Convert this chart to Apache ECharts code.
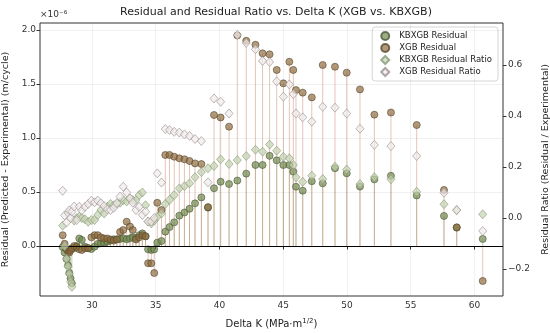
<!DOCTYPE html>
<html>
<head>
<meta charset="utf-8">
<script src="https://cdn.jsdelivr.net/npm/echarts@6/dist/echarts.min.js"></script>
<style>html,body{margin:0;padding:0;background:#fff;}#c{width:550px;height:333px;}</style>
</head>
<body>
<div id="c"></div>
<script>
// ---- data (residuals in units of 1e-6 m/cycle) ----
const deltaK = [27.70,27.85,28.00,28.12,28.22,28.32,28.42,28.60,28.80,29.00,29.20,29.45,29.70,29.95,30.20,30.45,30.70,30.95,31.20,31.45,31.70,31.95,32.20,32.45,32.72,32.98,33.20,33.45,33.70,33.95,34.20,34.40,34.65,34.88,35.12,35.45,
  35.75,36.08,36.45,36.85,37.25,37.65,38.08,38.58,39.10,39.57,40.09,40.75,41.40,42.10,42.82,43.38,43.93,44.49,45.01,45.48,45.79,46.00,46.53,47.24,48.10,49.06,49.98,51.02,52.15,53.45,55.47,57.61,58.61,60.65];
const kbxgbResidual = [-0.01,-0.06,-0.12,-0.18,-0.25,-0.30,-0.345,-0.02,0.00,0.07,0.056,-0.006,-0.02,-0.028,-0.006,0.019,0.025,0.031,0.04,0.05,0.062,0.062,0.065,0.071,0.062,0.071,0.08,0.071,0.10,0.117,0.09,-0.031,-0.037,-0.031,0.031,0.046,
  0.133,0.175,0.219,0.281,0.31,0.345,0.395,0.45,0.355,0.535,0.595,0.574,0.606,0.67,0.75,0.75,0.835,0.793,0.75,0.75,0.688,0.549,0.512,0.60,0.58,0.72,0.673,0.55,0.617,0.65,0.468,0.278,0.17,0.065];
const xgbResidual = [0.10,0.02,-0.03,-0.05,-0.06,-0.04,-0.02,0.00,-0.01,-0.03,-0.037,-0.02,-0.02,0.08,0.10,0.10,0.08,0.07,0.07,0.06,0.05,0.06,0.13,0.148,0.225,0.18,0.148,0.06,0.08,0.10,0.09,-0.16,-0.16,-0.25,0.40,0.333,
  0.843,0.843,0.827,0.812,0.803,0.787,0.765,0.759,0.36,1.213,1.19,1.105,1.95,1.90,1.864,1.784,1.775,1.63,1.506,1.706,1.63,1.444,1.42,1.376,1.676,1.66,1.605,1.45,1.216,1.236,1.12,0.519,0.173,-0.324];
const kbxgbRatio = [-0.03,-0.11,-0.16,-0.19,-0.22,-0.25,-0.27,-0.01,0.00,0.005,0.00,-0.005,-0.015,-0.008,-0.008,0.012,0.031,0.018,0.044,0.055,0.05,0.055,0.06,0.07,0.065,0.075,0.07,0.07,0.09,0.10,0.05,-0.014,-0.021,-0.01,0.005,0.018,
  0.055,0.071,0.09,0.116,0.125,0.136,0.16,0.18,0.195,0.204,0.23,0.212,0.227,0.243,0.268,0.26,0.288,0.264,0.24,0.234,0.208,0.16,0.142,0.166,0.153,0.201,0.19,0.133,0.16,0.152,0.103,0.054,0.031,0.0145];
const xgbRatio = [0.107,0.01,-0.018,0.02,0.03,0.00,0.025,0.045,-0.008,0.044,0.03,0.044,0.055,0.068,0.062,0.068,0.058,0.047,0.034,0.031,0.04,0.058,0.084,0.123,0.10,0.077,0.06,0.031,0.044,0.012,0.025,-0.014,-0.014,0.00,0.175,0.139,
  0.349,0.345,0.338,0.335,0.328,0.322,0.31,0.302,0.14,0.469,0.456,0.41,0.718,0.687,0.662,0.616,0.612,0.536,0.476,0.524,0.486,0.41,0.395,0.378,0.436,0.433,0.41,0.35,0.287,0.282,0.243,0.099,0.031,-0.051];
const xTicks = [30,35,40,45,50,55,60];
const leftTicks = [0,0.5,1.0,1.5,2.0];
const rightTicks = [-0.2,0,0.2,0.4,0.6];

const pairs = (ys) => deltaK.map((x,i)=>[x, ys[i]]);
const FONT = 'DejaVu Sans';
const chart = echarts.init(document.getElementById('c'), null, {renderer:'canvas'});

function stemSeries(ys, color){
  return {
    type:'custom', yAxisIndex:0, silent:true, z:1,
    data: pairs(ys), encode:{x:0,y:1},
    renderItem:(params, api)=>{
      const x = api.value(0), y = api.value(1);
      const p0 = api.coord([x,0]), p1 = api.coord([x,y]);
      return {type:'line', shape:{x1:p0[0],y1:p0[1],x2:p1[0],y2:p1[1]}, style:{stroke:color, lineWidth:1}};
    }
  };
}
const gridStyle = {color:'rgba(0,0,0,0.07)', width:0.8, type:'solid'};
const fmtR = v => (v<0?'\u2212':'') + Math.abs(v).toFixed(1);

const option = {
  animation:false,
  title:{text:'Residual and Residual Ratio vs. Delta K (XGB vs. KBXGB)', left:271, top:2, textAlign:'center',
    textStyle:{fontFamily:FONT, fontSize:11, fontWeight:'normal', color:'#222'}},
  grid:{left:40, right:47, top:23, bottom:37, containLabel:false, outerBoundsMode:'none',
    show:true, borderColor:'#333', borderWidth:1, backgroundColor:'transparent'},
  legend:{orient:'vertical', right:52, top:27, itemWidth:8, itemHeight:8, itemGap:2, symbolKeepAspect:true,
    padding:[4,6,4,8], borderColor:'#d5d5d5', borderWidth:1, borderRadius:3, backgroundColor:'rgba(255,255,255,0.85)',
    textStyle:{fontFamily:FONT, fontSize:8.5, color:'#222', padding:[0,0,0,5]},
    data:[{name:'KBXGB Residual',icon:'circle'},{name:'XGB Residual',icon:'circle'},{name:'KBXGB Residual Ratio',icon:'diamond'},{name:'XGB Residual Ratio',icon:'diamond'}]},
  xAxis:{type:'value', min:25.92, max:62.24,
    name:'Delta K (MPa\u00b7m{s|1/2})', nameLocation:'middle', nameGap:22,
    nameTextStyle:{fontFamily:FONT, fontSize:10, color:'#222', rich:{s:{fontSize:7, padding:[0,0,6,0], fontFamily:FONT, color:'#222'}}},
    axisLine:{show:false}, splitLine:{show:false},
    axisTick:{show:true, customValues:xTicks, length:3.5, inside:false, lineStyle:{color:'#333'}},
    axisLabel:{customValues:xTicks, fontFamily:FONT, fontSize:9, color:'#333', margin:5, formatter:v=>String(v)}},
  yAxis:[
    {type:'value', min:-0.463, max:2.065, position:'left', alignTicks:false,
     name:'Residual (Predicted - Experimental) (m/cycle)', nameLocation:'middle', nameGap:27, nameRotate:90,
     nameTextStyle:{fontFamily:FONT, fontSize:9.5, color:'#222'},
     axisLine:{show:false}, splitLine:{show:false},
     axisTick:{show:true, customValues:leftTicks, length:3.5, lineStyle:{color:'#333'}},
     axisLabel:{customValues:leftTicks, fontFamily:FONT, fontSize:9, color:'#333', margin:4, formatter:v=>v.toFixed(1)}},
    {type:'value', min:-0.306, max:0.765, position:'right', alignTicks:false,
     name:'Residual Ratio (Residual / Experimental)', nameLocation:'middle', nameGap:33, nameRotate:90,
     nameTextStyle:{fontFamily:FONT, fontSize:9.5, color:'#222'},
     axisLine:{show:false}, splitLine:{show:false},
     axisTick:{show:true, customValues:rightTicks, length:3.5, lineStyle:{color:'#333'}},
     axisLabel:{customValues:rightTicks, fontFamily:FONT, fontSize:9, color:'#333', margin:5, formatter:fmtR}}
  ],
  graphic:[{type:'text', left:40, top:10, style:{text:'\u00d710\u207b\u2076', font:'9px "DejaVu Sans"', fill:'#333'}}],
  series:[
    {type:'line', yAxisIndex:0, data:[], silent:true, z:0,
     markLine:{silent:true, symbol:'none', label:{show:false}, lineStyle:gridStyle,
       data: xTicks.map(v=>({xAxis:v})).concat(leftTicks.map(v=>({yAxis:v})))}},
    stemSeries(kbxgbResidual, 'rgba(150,165,120,0.55)'),
    stemSeries(xgbResidual, 'rgba(205,150,125,0.55)'),
    {type:'line', yAxisIndex:0, data:[], silent:true, z:2,
     markLine:{silent:true, symbol:'none', label:{show:false}, lineStyle:{color:'#000', width:1.1, type:'solid'}, data:[{yAxis:0}]}},
    {name:'KBXGB Residual', type:'scatter', yAxisIndex:0, symbol:'circle', symbolSize:7, z:3, data:pairs(kbxgbResidual),
     itemStyle:{color:'rgba(110,135,75,0.85)', borderColor:'#4d5a38', borderWidth:0.8}},
    {name:'XGB Residual', type:'scatter', yAxisIndex:0, symbol:'circle', symbolSize:7, z:4, data:pairs(xgbResidual),
     itemStyle:{color:'rgba(140,105,60,0.85)', borderColor:'#5a4a30', borderWidth:0.8}},
    {name:'KBXGB Residual Ratio', type:'scatter', yAxisIndex:1, symbol:'diamond', symbolSize:[8,9], z:5, data:pairs(kbxgbRatio),
     itemStyle:{color:'rgba(195,210,175,0.85)', borderColor:'#8a9a7a', borderWidth:0.8}},
    {name:'XGB Residual Ratio', type:'scatter', yAxisIndex:1, symbol:'diamond', symbolSize:[8,9], z:6, data:pairs(xgbRatio),
     itemStyle:{color:'rgba(242,234,234,0.85)', borderColor:'#9a9090', borderWidth:0.8}}
  ]
};
chart.setOption(option);
</script>
</body>
</html>
